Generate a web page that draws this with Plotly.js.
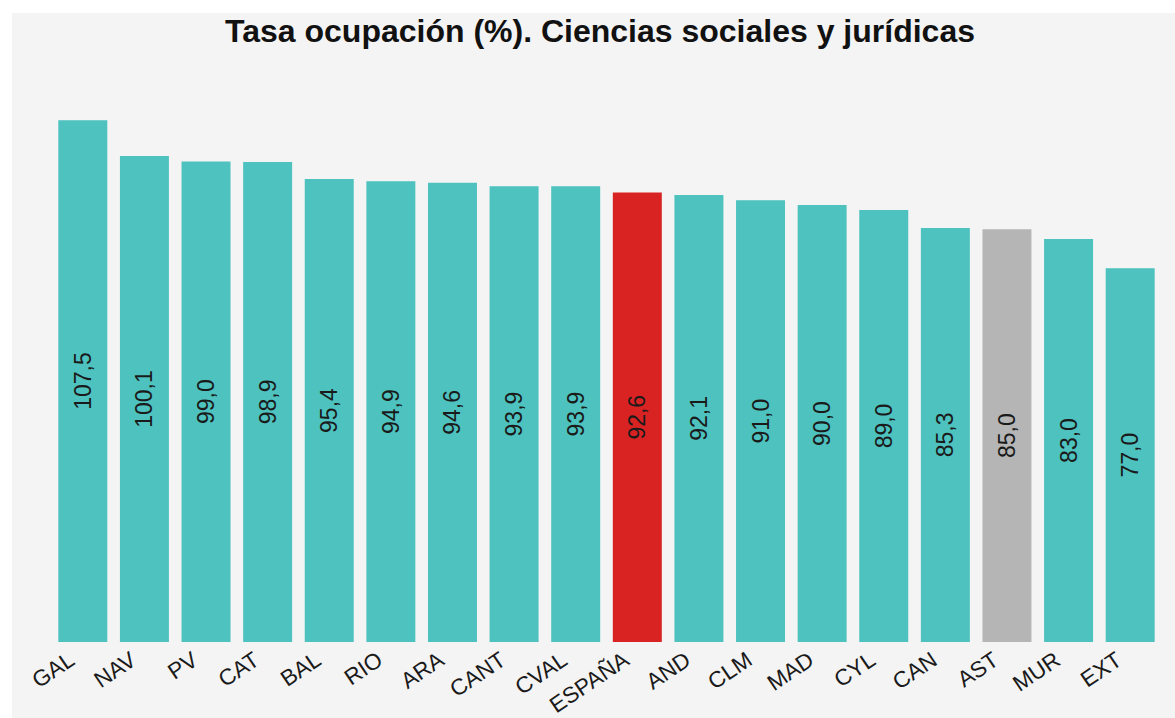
<!DOCTYPE html>
<html>
<head>
<meta charset="utf-8">
<script src="https://cdn.plot.ly/plotly-3.0.1.min.js"></script>
<style>
  html, body { margin: 0; padding: 0; background: #ffffff; }
  #chart { position: absolute; left: 12px; top: 13px; width: 1163px; height: 705px; }
</style>
</head>
<body>
<div id="chart"></div>
<script>
const categories = ["GAL","NAV","PV","CAT","BAL","RIO","ARA","CANT","CVAL","ESPAÑA","AND","CLM","MAD","CYL","CAN","AST","MUR","EXT"];
const values = [107.5, 100.1, 99.0, 98.9, 95.4, 94.9, 94.6, 93.9, 93.9, 92.6, 92.1, 91.0, 90.0, 89.0, 85.3, 85.0, 83.0, 77.0];
const baseColor = "#4dc2bf";
const highlight = {"ESPAÑA": "#d92323", "AST": "#b5b5b5"};

const colors = categories.map(c => highlight[c] || baseColor);
const labels = values.map(v => v.toFixed(1).replace('.', ','));

const trace = {
  type: 'bar',
  x: categories,
  y: values,
  marker: { color: colors },
  text: labels,
  textposition: 'inside',
  insidetextanchor: 'middle',
  textangle: -90,
  constraintext: 'none',
  textfont: { family: 'Liberation Sans, Arial, sans-serif', size: 23, color: '#1a1a1a' },
  hoverinfo: 'none'
};

const layout = {
  width: 1163,
  height: 705,
  paper_bgcolor: '#f4f4f4',
  plot_bgcolor: '#f4f4f4',
  margin: { l: 40, r: 14, t: 95, b: 76 },
  bargap: 0.205,
  showlegend: false,
  font: { family: 'Liberation Sans, Arial, sans-serif', color: '#1a1a1a' },
  title: {
    text: '<b>Tasa ocupación (%). Ciencias sociales y jurídicas</b>',
    font: { family: 'Liberation Sans, Arial, sans-serif', size: 32, color: '#111111' },
    xref: 'container', x: 0.5056, xanchor: 'center',
    yref: 'container', y: 1 - 18 / 705, yanchor: 'middle'
  },
  xaxis: {
    type: 'category',
    tickangle: -34,
    tickfont: { size: 22.5, color: '#1a1a1a' },
    ticklabelstandoff: 0,
    ticklabelshift: -13,
    showgrid: false, zeroline: false, showline: false, ticks: ''
  },
  yaxis: {
    range: [0, 110],
    visible: false,
    showgrid: false, zeroline: false
  }
};

Plotly.newPlot('chart', [trace], layout, { displayModeBar: false, staticPlot: true });
</script>
</body>
</html>
